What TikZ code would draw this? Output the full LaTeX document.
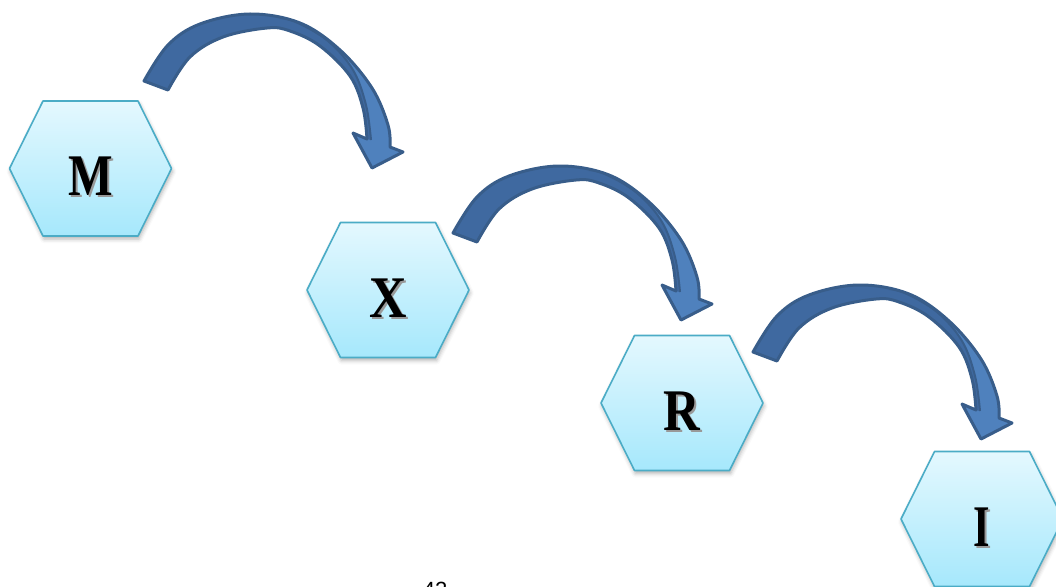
\documentclass[tikz,border=0pt]{standalone}
\usepackage{fontspec}
\newfontfamily\numfont{Liberation Sans}
\newfontfamily\letfont{Liberation Serif}
\usetikzlibrary{shadows.blur}
\definecolor{hexborder}{HTML}{4BACC6}
\definecolor{hextop}{HTML}{E4F8FE}
\definecolor{hexbot}{HTML}{A6E8FC}
\definecolor{arrline}{HTML}{385D8A}
\definecolor{arrdark}{HTML}{3F69A0}
\definecolor{arrlight}{HTML}{4F81BD}
\newcommand\hexletter[2]{\scalebox{#1}[1]{#2}}
\tikzset{
  hexa/.pic={
    \path[top color=hextop,bottom color=hexbot,draw=hexborder,line width=1.6pt,line join=round,
      blur shadow={shadow xshift=1pt,shadow yshift=-3pt,shadow blur radius=4pt,shadow opacity=30}]
      (-81,0)--(-47.5,-67.5)--(47.5,-67.5)--(81,0)--(47.5,67.5)--(-47.5,67.5)--cycle;
  },
  curvarrow/.pic={
    \fill[arrlight] plot[smooth,tension=0.6] coordinates {(144,81)(168,45)(200,24)(250,14)(300,23)(340,50)(372,88)(388,125)(390,147)}
      -- (403,152) -- (372,168) -- (353,133)
      -- plot[smooth,tension=0.6] coordinates {(367,139)(363,108)(350,76)(320,46)(290,31)(267,28)(223,37)(190,57)(168,90)} -- cycle;
    \fill[arrdark] plot[smooth,tension=0.6] coordinates {(144,81)(168,45)(200,24)(250,14)(296,22)(328,41)(353,70)(366,105)(371,140)}
      -- plot[smooth,tension=0.6] coordinates {(367,139)(363,108)(350,76)(320,46)(290,31)(267,28)(223,37)(190,57)(168,90)} -- cycle;
    \draw[arrline,line width=2pt,line join=round] plot[smooth,tension=0.6] coordinates {(280,18)(296,22)(328,41)(353,70)(366,105)(371,140)};
    \draw[arrline,line width=3pt,line join=round] plot[smooth,tension=0.6] coordinates {(144,81)(168,45)(200,24)(250,14)(300,23)(340,50)(372,88)(388,125)(390,147)}
      -- (403,152) -- (372,168) -- (353,133)
      -- plot[smooth,tension=0.6] coordinates {(367,139)(363,108)(350,76)(320,46)(290,31)(267,28)(223,37)(190,57)(168,90)} -- cycle;
  },
  letter/.style={font=\letfont\fontsize{59}{62}\selectfont\bfseries, inner sep=0pt},
  lettershade/.style={letter, text=black!40},
}
\begin{document}
\begin{tikzpicture}[x=1pt,y=-1pt]
\useasboundingbox (0,0) rectangle (1056,586);
\clip (0,0) rectangle (1056,586);
% hexagons
\pic at (90.5,168.5) {hexa};
\pic at (388,290) {hexa};
\pic at (682,403) {hexa};
\pic at (982,519) {hexa};
% letters
\node[lettershade] at (92.5,178.5) {\hexletter{0.8}{M}};
\node[letter] (m) at (90.5,176.5) {\hexletter{0.8}{M}};
\node[lettershade] at (390,300) {\hexletter{0.88}{X}};
\node[letter] (x) at (388,298) {\hexletter{0.88}{X}};
\node[lettershade] at (684,413) {\hexletter{0.86}{R}};
\node[letter] (r) at (682,411) {\hexletter{0.86}{R}};
\node[lettershade] at (984,529) {\hexletter{0.72}{I}};
\node[letter] (i) at (982,527) {\hexletter{0.72}{I}};
% curved arrows
\pic {curvarrow};
\pic[shift={(309,152)}] {curvarrow};
\pic[shift={(609,271)}] {curvarrow};
% page number
\node[font=\numfont\fontsize{22}{24}\selectfont, anchor=base, inner sep=0pt] (pg) at (435,597) {42};
\end{tikzpicture}
\end{document}
